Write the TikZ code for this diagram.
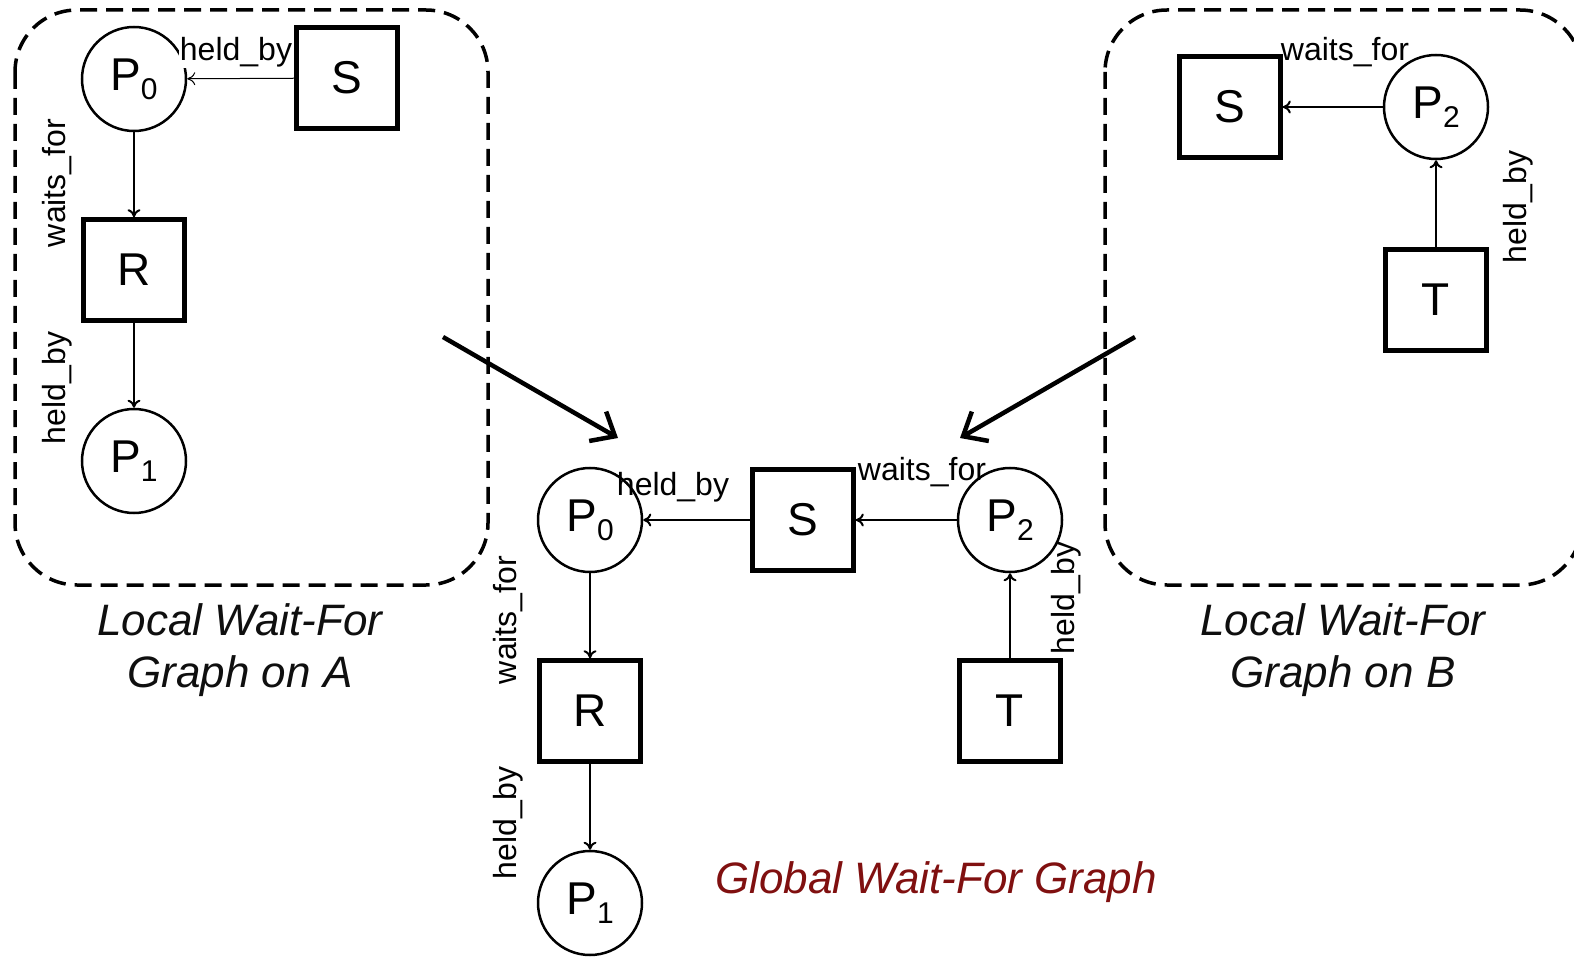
\documentclass[tikz,border=0pt]{standalone}
\usepackage{fontspec}
\setmainfont{Liberation Sans}
\usetikzlibrary{arrows.meta}
\definecolor{capred}{RGB}{128,16,16}
\definecolor{capgray}{RGB}{15,15,15}
\newcommand{\Pn}[1]{P\raisebox{-9pt}{\fontsize{30}{30}\selectfont #1}}
\tikzset{
  proc/.style={circle, draw, line width=2.5pt, minimum size=104pt, inner sep=0pt, font=\fontsize{46}{50}\selectfont},
  res/.style={rectangle, draw, line width=4.5pt, minimum size=101pt, inner sep=0pt, font=\fontsize{46}{50}\selectfont},
  lbl/.style={font=\fontsize{32}{36}\selectfont, inner sep=1pt},
  edge/.style={-{To[length=8pt,width=13pt]}, line width=2pt},
  bigarrow/.style={-{Straight Barb[length=20pt,width=34pt,line width=4.5pt]}, line width=4.5pt},
  region/.style={dash pattern=on 17pt off 9pt, line width=3.5pt, rounded corners=62pt},
  caption/.style={font=\fontsize{44}{52}\selectfont\itshape, align=center}
}
\begin{document}
\begin{tikzpicture}[x=1pt,y=-1pt]
\clip (0,0) rectangle (1574,957);
\fill[white] (0,0) rectangle (1574,957);

% regions
\draw[region] (15,10) rectangle (488,585);
\draw[region] (1105,10) rectangle (1582,585);

% ---- local graph A
\node[proc] (aP0) at (134,79) {\Pn{0}};
\node[res]  (aS)  at (347,78) {S};
\node[res]  (aR)  at (134,270) {R};
\node[proc] (aP1) at (134,461) {\Pn{1}};
\draw[edge, line width=1pt] (aS) -- (aP0);
\draw[edge] (aP0) -- (aR);
\draw[edge] (aR) -- (aP1);
\node[lbl, fill=white] (aLh) at (236,52) {held\_by};
\node[lbl, rotate=90] (aLw) at (57,183) {waits\_for};
\node[lbl, rotate=90] (aLh2) at (57,388) {held\_by};
\node[caption, text=capgray] (capA) at (240,650) {Local Wait-For\\Graph on A};

% ---- local graph B
\node[res]  (bS)  at (1230,107) {S};
\node[proc] (bP2) at (1436,107) {\Pn{2}};
\node[res]  (bT)  at (1436,300) {T};
\draw[edge] (bP2) -- (bS);
\draw[edge] (bT) -- (bP2);
\node[lbl] (bLw) at (1345,52) {waits\_for};
\node[lbl, rotate=90] (bLh) at (1518,207) {held\_by};
\node[caption, text=capgray] (capB) at (1343,650) {Local Wait-For\\Graph on B};

% ---- global graph
\node[proc] (gP0) at (590,520) {\Pn{0}};
\node[res]  (gS)  at (803,520) {S};
\node[proc] (gP2) at (1010,520) {\Pn{2}};
\node[res]  (gR)  at (590,711) {R};
\node[res]  (gT)  at (1010,711) {T};
\node[proc] (gP1) at (590,903) {\Pn{1}};
\draw[edge] (gS) -- (gP0);
\draw[edge] (gP2) -- (gS);
\draw[edge] (gP0) -- (gR);
\draw[edge] (gR) -- (gP1);
\draw[edge] (gT) -- (gP2);
\node[lbl] (gLh) at (673,487) {held\_by};
\node[lbl] (gLw) at (922,472) {waits\_for};
\node[lbl, rotate=90] (gLw2) at (508,620) {waits\_for};
\node[lbl, rotate=90] (gLh2) at (508,823) {held\_by};
\node[lbl, rotate=90] (gLh3) at (1066,598) {held\_by};
\node[caption, text=capred] (capG) at (936,882) {Global Wait-For Graph};

% ---- merge arrows
\coordinate (fromA) at (443,337);
\coordinate (toA) at (618,438);
\coordinate (fromB) at (1135,337);
\coordinate (toB) at (960,438);
\draw[bigarrow] (fromA) -- (toA);
\draw[bigarrow] (fromB) -- (toB);
\end{tikzpicture}
\end{document}
